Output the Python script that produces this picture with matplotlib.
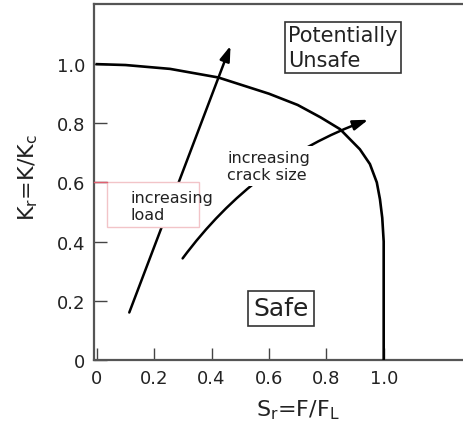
import matplotlib
matplotlib.use("Agg")
import matplotlib.pyplot as plt
from matplotlib.patches import FancyArrowPatch, Rectangle

# failure assessment curve
curve_x = [0.0, 0.10, 0.255, 0.423, 0.60, 0.70, 0.78, 0.848, 0.917, 0.952, 0.976, 0.987, 0.995, 1.0, 1.0]
curve_y = [1.0, 0.997, 0.984, 0.955, 0.90, 0.862, 0.82, 0.780, 0.712, 0.662, 0.600, 0.543, 0.48, 0.40, 0.0]

x_ticks = [0, 0.2, 0.4, 0.6, 0.8, 1.0]
x_tick_labels = ["0", "0.2", "0.4", "0.6", "0.8", "1.0"]
y_ticks = [0, 0.2, 0.4, 0.6, 0.8, 1.0]
y_tick_labels = ["0", "0.2", "0.4", "0.6", "0.8", "1.0"]

# arrows: start and end in data units
load_start, load_end = (0.113, 0.160), (0.466, 1.062)
crack_start, crack_end = (0.299, 0.343), (0.946, 0.812)

fig = plt.figure(figsize=(4.64, 4.27), dpi=100)
ax = fig.add_axes([0.203, 0.155, 0.797, 0.833])

ax.plot(curve_x, curve_y, color="black", linewidth=1.9, zorder=3)

ax.set_xlim(-0.0093, 1.28)
ax.set_ylim(0, 1.203)
ax.set_xticks(x_ticks)
ax.set_xticklabels(x_tick_labels)
ax.set_yticks(y_ticks)
ax.set_yticklabels(y_tick_labels)
ax.tick_params(direction="in", length=9, width=1.0, color="#444444",
               labelsize=13, labelcolor="#222222", pad=6.5)
ax.spines["right"].set_visible(False)
for s in ["left", "top", "bottom"]:
    ax.spines[s].set_color("#555555")
    ax.spines[s].set_linewidth(1.6)

ax.set_xlabel(r"$\mathregular{S_r}$=F/F$\mathregular{_L}$", fontsize=16, color="#222222")
ax.set_ylabel(r"$\mathregular{K_r}$=K/K$\mathregular{_c}$", fontsize=16, color="#222222")
ax.xaxis.set_label_coords(0.551, -0.105)
ax.yaxis.set_label_coords(-0.147, 0.516)

head = "-|>,head_length=0.9,head_width=0.3"
ax.add_patch(FancyArrowPatch(load_start, load_end, arrowstyle=head,
                             mutation_scale=10, color="black", linewidth=1.8,
                             shrinkA=0, shrinkB=0, zorder=4))
ax.add_patch(FancyArrowPatch(crack_start, crack_end, arrowstyle=head,
                             connectionstyle="arc3,rad=-0.15",
                             mutation_scale=10, color="black", linewidth=1.8,
                             shrinkA=0, shrinkB=0, zorder=4))

# pink-edged box that hides the load arrow
ax.add_patch(Rectangle((0.036, 0.450), 0.32, 0.150, facecolor="white",
                       edgecolor="#f2c4c8", linewidth=1.0, zorder=5))
ax.plot([-0.0093, 0.036], [0.6, 0.6], color="#e06070", linewidth=1.0, zorder=5,
        clip_on=False)
ax.text(0.117, 0.52, "increasing\nload", fontsize=11.5, color="#222222",
        va="center", ha="left", linespacing=1.15, zorder=6)

ax.text(0.455, 0.656, "increasing\ncrack size", fontsize=11.5, color="#222222",
        va="center", ha="left", linespacing=1.15, zorder=6,
        bbox=dict(boxstyle="square,pad=0.25", facecolor="white", edgecolor="none"))

ax.text(0.668, 1.055, "Potentially\nUnsafe", fontsize=15, color="#222222",
        va="center", ha="left", linespacing=1.3, zorder=6,
        bbox=dict(boxstyle="square,pad=0.15", facecolor="white",
                  edgecolor="#333333", linewidth=1.2))
ax.text(0.642, 0.175, "Safe", fontsize=18, color="#222222",
        va="center", ha="center", zorder=6,
        bbox=dict(boxstyle="square,pad=0.22", facecolor="white",
                  edgecolor="#333333", linewidth=1.2))

fig.savefig("out.png", dpi=100)
